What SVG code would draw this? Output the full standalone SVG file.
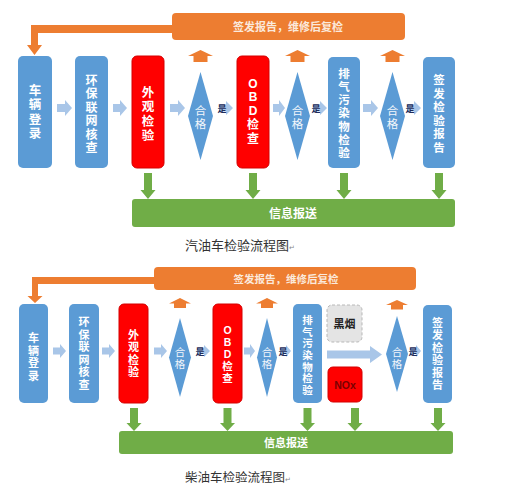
<svg xmlns="http://www.w3.org/2000/svg" width="510" height="501" viewBox="0 0 510 501">
<style>
text{font-family:"Liberation Sans","Noto Sans CJK SC",sans-serif}
.blue{fill:#5B9BD5}
.red{fill:#FF0000;stroke:#D40000;stroke-width:1}
.dia{fill:#5B9BD5}
.orange{fill:#ED7D31}
.green{fill:#70AD47}
.la{fill:#A9C6E8}
.lbl{fill:#FFFFFF;font-weight:bold;text-anchor:middle}
.dl{fill:#F2F6FB;text-anchor:middle}
.yes{fill:#1F2D5A;font-size:9px;font-weight:bold;text-anchor:middle}
.bar{fill:#FBE9DC;font-weight:bold;text-anchor:middle}
.info{fill:#FFFFFF;font-weight:bold;text-anchor:middle}
.cap{fill:#333333}
</style>
<rect width="510" height="501" fill="#FFFFFF"/>

<!-- ========== TOP: gasoline ========== -->
<g id="top-feedback">
  <rect class="orange" x="172" y="13" width="233" height="27" rx="4"/>
  <text class="bar" x="288" y="31" font-size="11">签发报告，维修后复检</text>
</g>
<g id="top-connectors">
  <path class="orange" d="M172 25 H31 V45 H27 L34.5 55 L42 45 H38 V33 H172 Z"/>
  <path class="la" d="M57 104 H65 V100 L72 108 L65 116 V112 H57 Z"/>
  <path class="la" d="M113 104 H120 V100 L127 108 L120 116 V112 H113 Z"/>
  <path class="la" d="M170 104 H178 V100 L185 108 L178 116 V112 H170 Z"/>
  <path class="la" d="M219 104.5 H226 V101 L233 108 L226 115 V111.5 H219 Z"/>
  <path class="la" d="M273 104 H279 V100 L285 108 L279 116 V112 H273 Z"/>
  <path class="la" d="M313 104.5 H320 V101 L327 108 L320 115 V111.5 H313 Z"/>
  <path class="la" d="M363 104 H371 V100 L378 108 L371 116 V112 H363 Z"/>
  <path class="la" d="M407 104.5 H414 V101 L421 108 L414 115 V111.5 H407 Z"/>
  <text class="yes" x="222" y="112">是</text>
  <text class="yes" x="316" y="112">是</text>
  <text class="yes" x="410" y="112">是</text>
  <path class="orange" d="M188 56 L200.5 50 L213 56 H207.5 V62 H193.5 V56 Z"/>
  <path class="orange" d="M285 56 L297.5 50 L310 56 H304.5 V62 H290.5 V56 Z"/>
  <path class="orange" d="M380 56 L392.5 50 L405 56 H399.5 V62 H385.5 V56 Z"/>
  <path class="green" d="M144 173 H152 V190 H155.5 L148 199 L140.5 190 H144 Z"/>
  <path class="green" d="M249 173 H257 V190 H260.5 L253 199 L245.5 190 H249 Z"/>
  <path class="green" d="M340 173 H348 V190 H351.5 L344 199 L336.5 190 H340 Z"/>
  <path class="green" d="M435 173 H443 V190 H446.5 L439 199 L431.5 190 H435 Z"/>
</g>
<g id="top-n1">
  <rect class="blue" x="18" y="56" width="34" height="112" rx="5"/>
  <text class="lbl" font-size="12.5" x="35" y="94.5"><tspan x="35">车</tspan><tspan x="35" dy="14.5">辆</tspan><tspan x="35" dy="14.5">登</tspan><tspan x="35" dy="14.5">录</tspan></text>
</g>
<g id="top-n2">
  <rect class="blue" x="75" y="56" width="33" height="112" rx="5"/>
  <text class="lbl" font-size="12" x="91.5" y="84.5"><tspan x="91.5">环</tspan><tspan x="91.5" dy="13.5">保</tspan><tspan x="91.5" dy="13.5">联</tspan><tspan x="91.5" dy="13.5">网</tspan><tspan x="91.5" dy="13.5">核</tspan><tspan x="91.5" dy="13.5">查</tspan></text>
</g>
<g id="top-n3">
  <rect class="red" x="132" y="56" width="32" height="112" rx="5"/>
  <text class="lbl" font-size="12.5" x="148" y="96.5"><tspan x="148">外</tspan><tspan x="148" dy="14.5">观</tspan><tspan x="148" dy="14.5">检</tspan><tspan x="148" dy="14.5">验</tspan></text>
</g>
<g id="top-d1">
  <polygon class="dia" points="200.5,72 213,116 200.5,160 188,116"/>
  <text class="dl" font-size="11.5" x="200.5" y="114.5"><tspan x="200.5">合</tspan><tspan x="200.5" dy="13.5">格</tspan></text>
</g>
<g id="top-n4">
  <rect class="red" x="237" y="56" width="32" height="112" rx="5"/>
  <text class="lbl" font-size="12" x="253" y="87.5"><tspan x="253">O</tspan><tspan x="253" dy="13.75">B</tspan><tspan x="253" dy="13.75">D</tspan><tspan x="253" dy="13.75">检</tspan><tspan x="253" dy="13.75">查</tspan></text>
</g>
<g id="top-d2">
  <polygon class="dia" points="297.5,72 310,116 297.5,160 285,116"/>
  <text class="dl" font-size="11.5" x="297.5" y="114.5"><tspan x="297.5">合</tspan><tspan x="297.5" dy="13.5">格</tspan></text>
</g>
<g id="top-n5">
  <rect class="blue" x="328" y="57" width="32" height="111" rx="5"/>
  <text class="lbl" font-size="11.5" x="344" y="77.5"><tspan x="344">排</tspan><tspan x="344" dy="13.33">气</tspan><tspan x="344" dy="13.33">污</tspan><tspan x="344" dy="13.33">染</tspan><tspan x="344" dy="13.33">物</tspan><tspan x="344" dy="13.33">检</tspan><tspan x="344" dy="13.33">验</tspan></text>
</g>
<g id="top-d3">
  <polygon class="dia" points="392.5,72 405,116 392.5,160 380,116"/>
  <text class="dl" font-size="11.5" x="392.5" y="114.5"><tspan x="392.5">合</tspan><tspan x="392.5" dy="13.5">格</tspan></text>
</g>
<g id="top-n6">
  <rect class="blue" x="423" y="57" width="32" height="111" rx="5"/>
  <text class="lbl" font-size="11.5" x="439" y="84"><tspan x="439">签</tspan><tspan x="439" dy="13.5">发</tspan><tspan x="439" dy="13.5">检</tspan><tspan x="439" dy="13.5">验</tspan><tspan x="439" dy="13.5">报</tspan><tspan x="439" dy="13.5">告</tspan></text>
</g>
<g id="top-info">
  <rect class="green" x="132" y="199" width="323" height="28" rx="3"/>
  <text class="info" x="293" y="217.5" font-size="12">信息报送</text>
</g>
<text class="cap" x="185" y="249.5" font-size="13">汽油车检验流程图<tspan font-size="7" fill="#888">↵</tspan></text>

<!-- ========== BOTTOM: diesel ========== -->
<g id="bot-feedback">
  <rect class="orange" x="154" y="267" width="262" height="23" rx="4"/>
  <text class="bar" x="286" y="282.5" font-size="10.5">签发报告，维修后复检</text>
</g>
<g id="bot-connectors">
  <path class="orange" d="M154 277 H32 V296 H27.5 L35 303 L42.5 296 H38 V284 H154 Z"/>
  <path class="la" d="M53 347.5 H60 V344 L66 351 L60 358 V354.5 H53 Z"/>
  <path class="la" d="M102 347.5 H109 V344 L115 351 L109 358 V354.5 H102 Z"/>
  <path class="la" d="M154 347.5 H161 V344 L167 351 L161 358 V354.5 H154 Z"/>
  <path class="la" d="M197 348 H204 V345 L210 351 L204 357 V354 H197 Z"/>
  <path class="la" d="M244 347.5 H250 V344 L255 351 L250 358 V354.5 H244 Z"/>
  <path class="la" d="M280 348 H286 V345 L291 351 L286 357 V354 H280 Z"/>
  <path class="la" d="M327 350.5 H370 V346 L382 354.5 L370 363 V358.5 H327 Z"/>
  <path class="la" d="M410 348 H416 V345 L421 351 L416 357 V354 H410 Z"/>
  <text class="yes" x="200" y="355">是</text>
  <text class="yes" x="283" y="355">是</text>
  <text class="yes" x="413" y="355">是</text>
  <path class="orange" d="M169 303.5 L180 298 L191 303.5 H186 V308 H174 V303.5 Z"/>
  <path class="orange" d="M256 303.5 L267 298 L278 303.5 H273 V308 H261 V303.5 Z"/>
  <path class="orange" d="M386 305 L397 300 L408 305 H403 V309.5 H391 V305 Z"/>
  <path class="green" d="M130 408 H138 V423 H141.5 L134 431 L126.5 423 H130 Z"/>
  <path class="green" d="M223.5 408 H231.5 V423 H235 L227.5 431 L220 423 H223.5 Z"/>
  <path class="green" d="M303.5 408 H311.5 V423 H315 L307.5 431 L300 423 H303.5 Z"/>
  <path class="green" d="M351 408 H359 V423 H362.5 L355 431 L347.5 423 H351 Z"/>
  <path class="green" d="M434 408 H442 V423 H445.5 L438 431 L430.5 423 H434 Z"/>
</g>
<g id="bot-n1">
  <rect class="blue" x="19" y="304" width="29" height="99" rx="5"/>
  <text class="lbl" font-size="11" x="33.5" y="342"><tspan x="33.5">车</tspan><tspan x="33.5" dy="12.5">辆</tspan><tspan x="33.5" dy="12.5">登</tspan><tspan x="33.5" dy="12.5">录</tspan></text>
</g>
<g id="bot-n2">
  <rect class="blue" x="69" y="304" width="30" height="99" rx="5"/>
  <text class="lbl" font-size="11" x="84" y="326"><tspan x="84">环</tspan><tspan x="84" dy="12.6">保</tspan><tspan x="84" dy="12.6">联</tspan><tspan x="84" dy="12.6">网</tspan><tspan x="84" dy="12.6">核</tspan><tspan x="84" dy="12.6">查</tspan></text>
</g>
<g id="bot-n3">
  <rect class="red" x="119" y="304" width="29" height="99" rx="5"/>
  <text class="lbl" font-size="11" x="133.5" y="339"><tspan x="133.5">外</tspan><tspan x="133.5" dy="12.3">观</tspan><tspan x="133.5" dy="12.3">检</tspan><tspan x="133.5" dy="12.3">验</tspan></text>
</g>
<g id="bot-d1">
  <polygon class="dia" points="180,318 191,357.5 180,397 169,357.5"/>
  <text class="dl" font-size="10.5" x="180" y="356"><tspan x="180">合</tspan><tspan x="180" dy="12">格</tspan></text>
</g>
<g id="bot-n4">
  <rect class="red" x="213" y="304" width="29" height="99" rx="5"/>
  <text class="lbl" font-size="10.5" x="227.5" y="334"><tspan x="227.5">O</tspan><tspan x="227.5" dy="12">B</tspan><tspan x="227.5" dy="12">D</tspan><tspan x="227.5" dy="12">检</tspan><tspan x="227.5" dy="12">查</tspan></text>
</g>
<g id="bot-d2">
  <polygon class="dia" points="267,318 277,357.5 267,397 257,357.5"/>
  <text class="dl" font-size="10.5" x="267" y="356"><tspan x="267">合</tspan><tspan x="267" dy="12">格</tspan></text>
</g>
<g id="bot-n5">
  <rect class="blue" x="293" y="304" width="29" height="99" rx="5"/>
  <text class="lbl" font-size="10.5" x="307.5" y="324"><tspan x="307.5">排</tspan><tspan x="307.5" dy="11.67">气</tspan><tspan x="307.5" dy="11.67">污</tspan><tspan x="307.5" dy="11.67">染</tspan><tspan x="307.5" dy="11.67">物</tspan><tspan x="307.5" dy="11.67">检</tspan><tspan x="307.5" dy="11.67">验</tspan></text>
</g>
<g id="bot-smoke">
  <rect x="327" y="305" width="35" height="37" rx="5" fill="#E4E4E4" stroke="#B8B8B8" stroke-width="1" stroke-dasharray="3,2"/>
  <text x="344.5" y="327.5" font-size="11" font-weight="bold" fill="#222222" text-anchor="middle">黑烟</text>
</g>
<g id="bot-nox">
  <rect class="red" x="328" y="367" width="34" height="35" rx="5"/>
  <text x="345" y="388.5" font-size="10.5" font-weight="bold" fill="#7A0000" text-anchor="middle">NOx</text>
</g>
<g id="bot-d3">
  <polygon class="dia" points="397,316 408,354 397,392 386,354"/>
  <text class="dl" font-size="10.5" x="397" y="356"><tspan x="397">合</tspan><tspan x="397" dy="12">格</tspan></text>
</g>
<g id="bot-n6">
  <rect class="blue" x="423" y="305" width="29" height="98" rx="5"/>
  <text class="lbl" font-size="11" x="437.5" y="327"><tspan x="437.5">签</tspan><tspan x="437.5" dy="12.4">发</tspan><tspan x="437.5" dy="12.4">检</tspan><tspan x="437.5" dy="12.4">验</tspan><tspan x="437.5" dy="12.4">报</tspan><tspan x="437.5" dy="12.4">告</tspan></text>
</g>
<g id="bot-info">
  <rect class="green" x="119" y="431" width="334" height="23" rx="3"/>
  <text class="info" x="286" y="446.5" font-size="11">信息报送</text>
</g>
<text class="cap" x="185" y="481.5" font-size="12.5">柴油车检验流程图<tspan font-size="7" fill="#888">↵</tspan></text>
</svg>
